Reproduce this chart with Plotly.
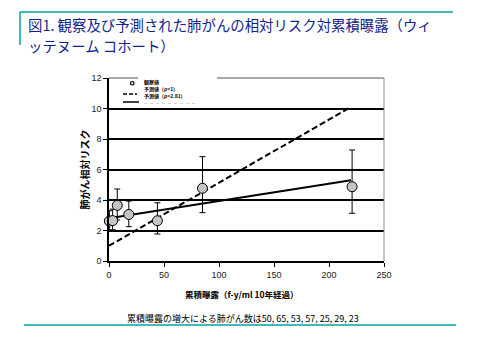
import plotly.graph_objects as go

# ---- data ----
obs_x = [0.3, 3.3, 7.5, 18, 44, 85, 221]
obs_y = [2.62, 2.65, 3.65, 3.05, 2.64, 4.77, 4.87]
obs_hi = [3.3, 3.4, 4.72, 3.93, 3.82, 6.84, 7.28]
obs_lo = [2.0, 2.05, 2.69, 2.25, 1.77, 3.17, 3.13]

pred_x = [0, 220]
pred_rho1 = [1.0, 10.1]
pred_rho281 = [2.8, 5.3]

x_ticks = [0, 50, 100, 150, 200, 250]
y_ticks = [0, 2, 4, 6, 8, 10, 12]

title1 = "図1. 観察及び予測された肺がんの相対リスク対累積曝露（ウィ"
title2 = "ッテヌーム コホート）"
x_title = "累積曝露（f-y/ml 10年経過）"
y_title = "肺がん相対リスク"
note = "累積曝露の増大による肺がん数は50, 65, 53, 57, 25, 29, 23"
leg_names = ["観察値", "予測値（ρ=1）", "予測値（ρ=2.81）"]

# ---- layout geometry (screen pixels; page body has an 8px margin) ----
OFF = 8
W, H = 480, 360
L, R, T, B = 109, 384, 78, 261


def px(x):
    return (x - L) / (R - L)


def py(y):
    return (B - y) / (B - T)


CJK = "Noto Sans CJK JP"
TEAL = "#00a3a3"
NAVY = "#14238c"

fig = go.Figure()

fig.add_trace(go.Scatter(
    x=pred_x, y=pred_rho1, mode="lines",
    line=dict(color="black", width=2, dash="6px,3px"),
    showlegend=False, hoverinfo="skip"))
fig.add_trace(go.Scatter(
    x=pred_x, y=pred_rho281, mode="lines",
    line=dict(color="black", width=2),
    showlegend=False, hoverinfo="skip"))

err_plus = [h - v for h, v in zip(obs_hi, obs_y)]
err_minus = [v - l for v, l in zip(obs_y, obs_lo)]
fig.add_trace(go.Scatter(
    x=obs_x, y=obs_y, mode="markers",
    marker=dict(symbol="circle", size=10, color="#c4c4c4",
                line=dict(color="black", width=1)),
    error_y=dict(type="data", symmetric=False, array=err_plus,
                 arrayminus=err_minus, color="black", thickness=1, width=3),
    showlegend=False, cliponaxis=False))

shapes = []
# teal frame lines
shapes.append(dict(type="line", xref="paper", yref="paper",
                   x0=px(20), x1=px(453), y0=py(12), y1=py(12),
                   line=dict(color=TEAL, width=1.5)))
shapes.append(dict(type="line", xref="paper", yref="paper",
                   x0=px(20), x1=px(20), y0=py(12), y1=py(45),
                   line=dict(color=TEAL, width=1.5)))
shapes.append(dict(type="line", xref="paper", yref="paper",
                   x0=px(24), x1=px(456), y0=py(325), y1=py(325),
                   line=dict(color=TEAL, width=1.5)))
# gray top and right borders of plot area
shapes.append(dict(type="line", xref="paper", yref="paper", layer="above",
                   x0=0, x1=px(138), y0=1, y1=1,
                   line=dict(color="#8c8c8c", width=1.5)))
shapes.append(dict(type="line", xref="paper", yref="paper", layer="above",
                   x0=px(217), x1=1, y0=1, y1=1,
                   line=dict(color="#8c8c8c", width=1.5)))
shapes.append(dict(type="line", xref="paper", yref="paper", layer="above",
                   x0=1, x1=1, y0=0, y1=1,
                   line=dict(color="#8c8c8c", width=1)))
# legend symbols
shapes.append(dict(type="circle", xref="paper", yref="paper", layer="above",
                   x0=px(130.5), x1=px(134), y0=py(81.5), y1=py(85),
                   line=dict(color="black", width=1.2), fillcolor="white"))
shapes.append(dict(type="line", xref="paper", yref="paper", layer="above",
                   x0=px(123), x1=px(137), y0=py(94), y1=py(94),
                   line=dict(color="black", width=1.5, dash="4px,2px")))
shapes.append(dict(type="line", xref="paper", yref="paper", layer="above",
                   x0=px(123), x1=px(139), y0=py(102), y1=py(102),
                   line=dict(color="black", width=1.5)))
shapes.append(dict(type="line", xref="paper", yref="paper", layer="above",
                   x0=px(144), x1=px(198), y0=py(103.5), y1=py(103.5),
                   line=dict(color="#c8c8c8", width=0.8, dash="dot")))

annotations = [
    dict(text=title1, xref="paper", yref="paper", x=px(26), y=py(25),
         xanchor="left", yanchor="middle", showarrow=False,
         font=dict(family=CJK, size=14.4, color=NAVY)),
    dict(text=title2, xref="paper", yref="paper", x=px(26), y=py(45),
         xanchor="left", yanchor="middle", showarrow=False,
         font=dict(family=CJK, size=14.4, color=NAVY)),
    dict(text="<b>" + y_title + "</b>", xref="paper", yref="paper",
         x=px(84), y=0.5, textangle=-90, xanchor="center", yanchor="middle",
         showarrow=False, font=dict(family=CJK, size=10, color="black")),
    dict(text="<b>" + x_title + "</b>", xref="paper", yref="paper",
         x=px(242), y=py(294), xanchor="center", yanchor="middle",
         showarrow=False, font=dict(family=CJK, size=8.5, color="black")),
    dict(text=note, xref="paper", yref="paper",
         x=px(243), y=py(318), xanchor="center", yanchor="middle",
         showarrow=False, font=dict(family=CJK, size=9, color="black")),
]
for name, yy in zip(leg_names, [82, 89, 96]):
    annotations.append(dict(text="<b>" + name + "</b>", xref="paper", yref="paper",
                            x=px(143), y=py(yy), xanchor="left", yanchor="middle",
                            showarrow=False, borderpad=0,
                            font=dict(family=CJK, size=5, color="black")))

fig.update_layout(
    width=W, height=H,
    margin=dict(l=L - OFF, r=W - R + OFF, t=T - OFF, b=H - B + OFF),
    paper_bgcolor="white", plot_bgcolor="white",
    showlegend=False,
    font=dict(family="Liberation Sans", size=9, color="#222222"),
    xaxis=dict(range=[0, 250], tickvals=x_ticks, showgrid=False,
               zeroline=False, showline=True, linecolor="black", linewidth=1.5,
               ticks="outside", ticklen=4, tickcolor="black", tickwidth=1,
               tickfont=dict(family="Liberation Sans", size=9, color="#222222")),
    yaxis=dict(range=[0, 12], tickvals=y_ticks, showgrid=True,
               gridcolor="black", gridwidth=1.5,
               zeroline=False, showline=True, linecolor="black", linewidth=1.5,
               ticks="outside", ticklen=4, tickcolor="black", tickwidth=1,
               tickfont=dict(family="Liberation Sans", size=9, color="#222222")),
    shapes=shapes,
    annotations=annotations,
)

fig.write_html("out.html")
